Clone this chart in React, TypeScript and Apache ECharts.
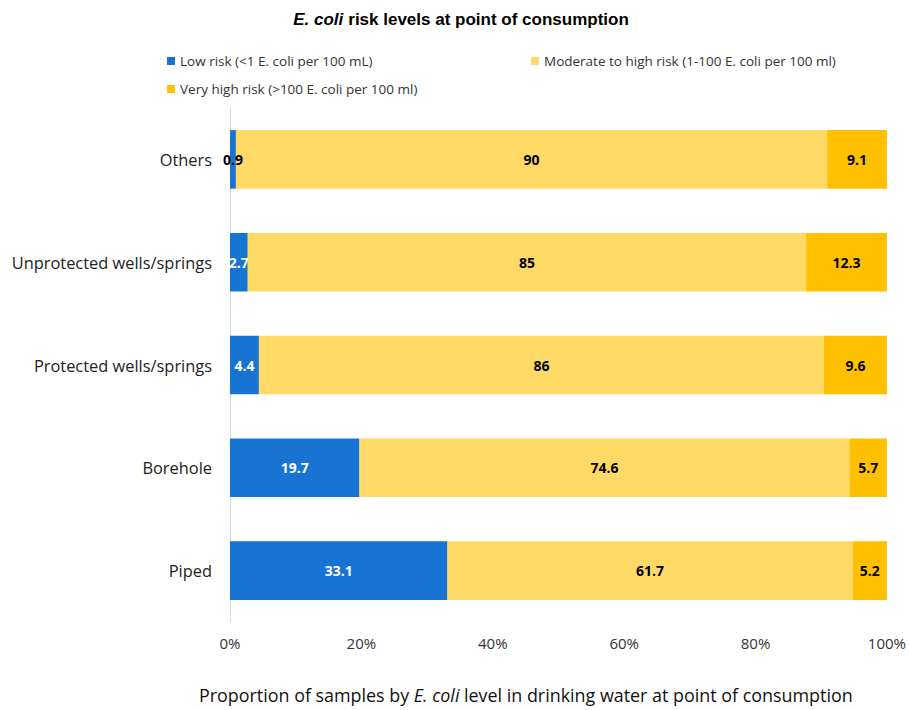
import React, { useEffect, useRef } from "react";
import * as echarts from "echarts";

const categories = ["Piped", "Borehole", "Protected wells/springs", "Unprotected wells/springs", "Others"];
const lowRisk = [33.1, 19.7, 4.4, 2.7, 0.9];
const moderateRisk = [61.7, 74.6, 86, 85, 90];
const veryHighRisk = [5.2, 5.7, 9.6, 12.3, 9.1];
const lowLabelColors = ["#ffffff", "#ffffff", "#ffffff", "#ffffff", "#000000"];
const seriesNames = [
  "Low risk (<1 E. coli per 100 mL)",
  "Moderate to high risk (1-100 E. coli per 100 ml)",
  "Very high risk (>100 E. coli per 100 ml)",
];
const xTicks = [0, 20, 40, 60, 80, 100];

export default function App() {
  const ref = useRef<HTMLDivElement>(null);
  useEffect(() => {
    if (!ref.current) return;
    const chart = echarts.init(ref.current, null, { renderer: "svg" });
    const font = "'Open Sans', 'Noto Sans', sans-serif";
    const labelBase = {
      show: true,
      position: "inside",
      fontFamily: font,
      fontWeight: "bold",
      fontSize: 14,
      color: "#000",
    };
    const legendText = { fontFamily: font, fontSize: 13.5, color: "#333" };
    chart.setOption({
      animation: false,
      backgroundColor: "#ffffff",
      title: {
        text: "{i|E. coli} {b|risk levels at point of consumption}",
        left: 456,
        textAlign: "center",
        top: 5,
        textStyle: {
          rich: {
            i: { fontFamily: "Liberation Sans, Arial", fontSize: 17, fontWeight: "bold", fontStyle: "italic", color: "#000" },
            b: { fontFamily: "Liberation Sans, Arial", fontSize: 17, fontWeight: "bold", color: "#000" },
          },
        },
      },
      legend: [
        { data: [seriesNames[0]], left: 162, top: 49, itemWidth: 8, itemHeight: 8, itemGap: 6, textStyle: legendText, icon: "rect" },
        { data: [seriesNames[1]], left: 526, top: 49, itemWidth: 8, itemHeight: 8, itemGap: 6, textStyle: legendText, icon: "rect" },
        { data: [seriesNames[2]], left: 162, top: 77, itemWidth: 8, itemHeight: 8, itemGap: 6, textStyle: legendText, icon: "rect" },
      ],
      grid: { left: 230, right: 19, top: 108, bottom: 88, containLabel: false },
      xAxis: {
        type: "value",
        min: 0,
        max: 100,
        interval: 20,
        axisLine: { show: false },
        axisTick: { show: false },
        splitLine: { show: false },
        axisLabel: {
          formatter: (v: number) => (xTicks.includes(v) ? v + "%" : ""),
          fontFamily: font,
          fontSize: 15,
          color: "#333",
          margin: 13,
        },
      },
      yAxis: {
        type: "category",
        data: categories,
        axisLine: { show: true, lineStyle: { color: "#d9d9d9", width: 1 } },
        axisTick: { show: false },
        axisLabel: { fontFamily: font, fontSize: 16.4, color: "#222", margin: 18 },
      },
      graphic: [
        {
          type: "text",
          left: 199,
          top: 686,
          style: {
            text: "{n|Proportion of samples by }{i|E. coli}{n| level in drinking water at point of consumption}",
            rich: {
              n: { fontFamily: font, fontSize: 17.9, fill: "#111" },
              i: { fontFamily: font, fontSize: 17.9, fontStyle: "italic", fill: "#111" },
            },
          },
        },
      ],
      series: [
        {
          name: seriesNames[0],
          type: "bar",
          stack: "total",
          barWidth: "57%",
          itemStyle: { color: "#1874D2" },
          data: lowRisk.map((v, i) => ({ value: v, label: { color: lowLabelColors[i] } })),
          label: labelBase,
        },
        {
          name: seriesNames[1],
          type: "bar",
          stack: "total",
          itemStyle: { color: "#FFD966" },
          data: moderateRisk,
          label: labelBase,
        },
        {
          name: seriesNames[2],
          type: "bar",
          stack: "total",
          itemStyle: { color: "#FFC000" },
          data: veryHighRisk,
          label: labelBase,
        },
      ],
    });
    return () => chart.dispose();
  }, []);
  return <div ref={ref} style={{ width: 909, height: 710, position: "absolute", left: 0, top: 0 }} />;
}
